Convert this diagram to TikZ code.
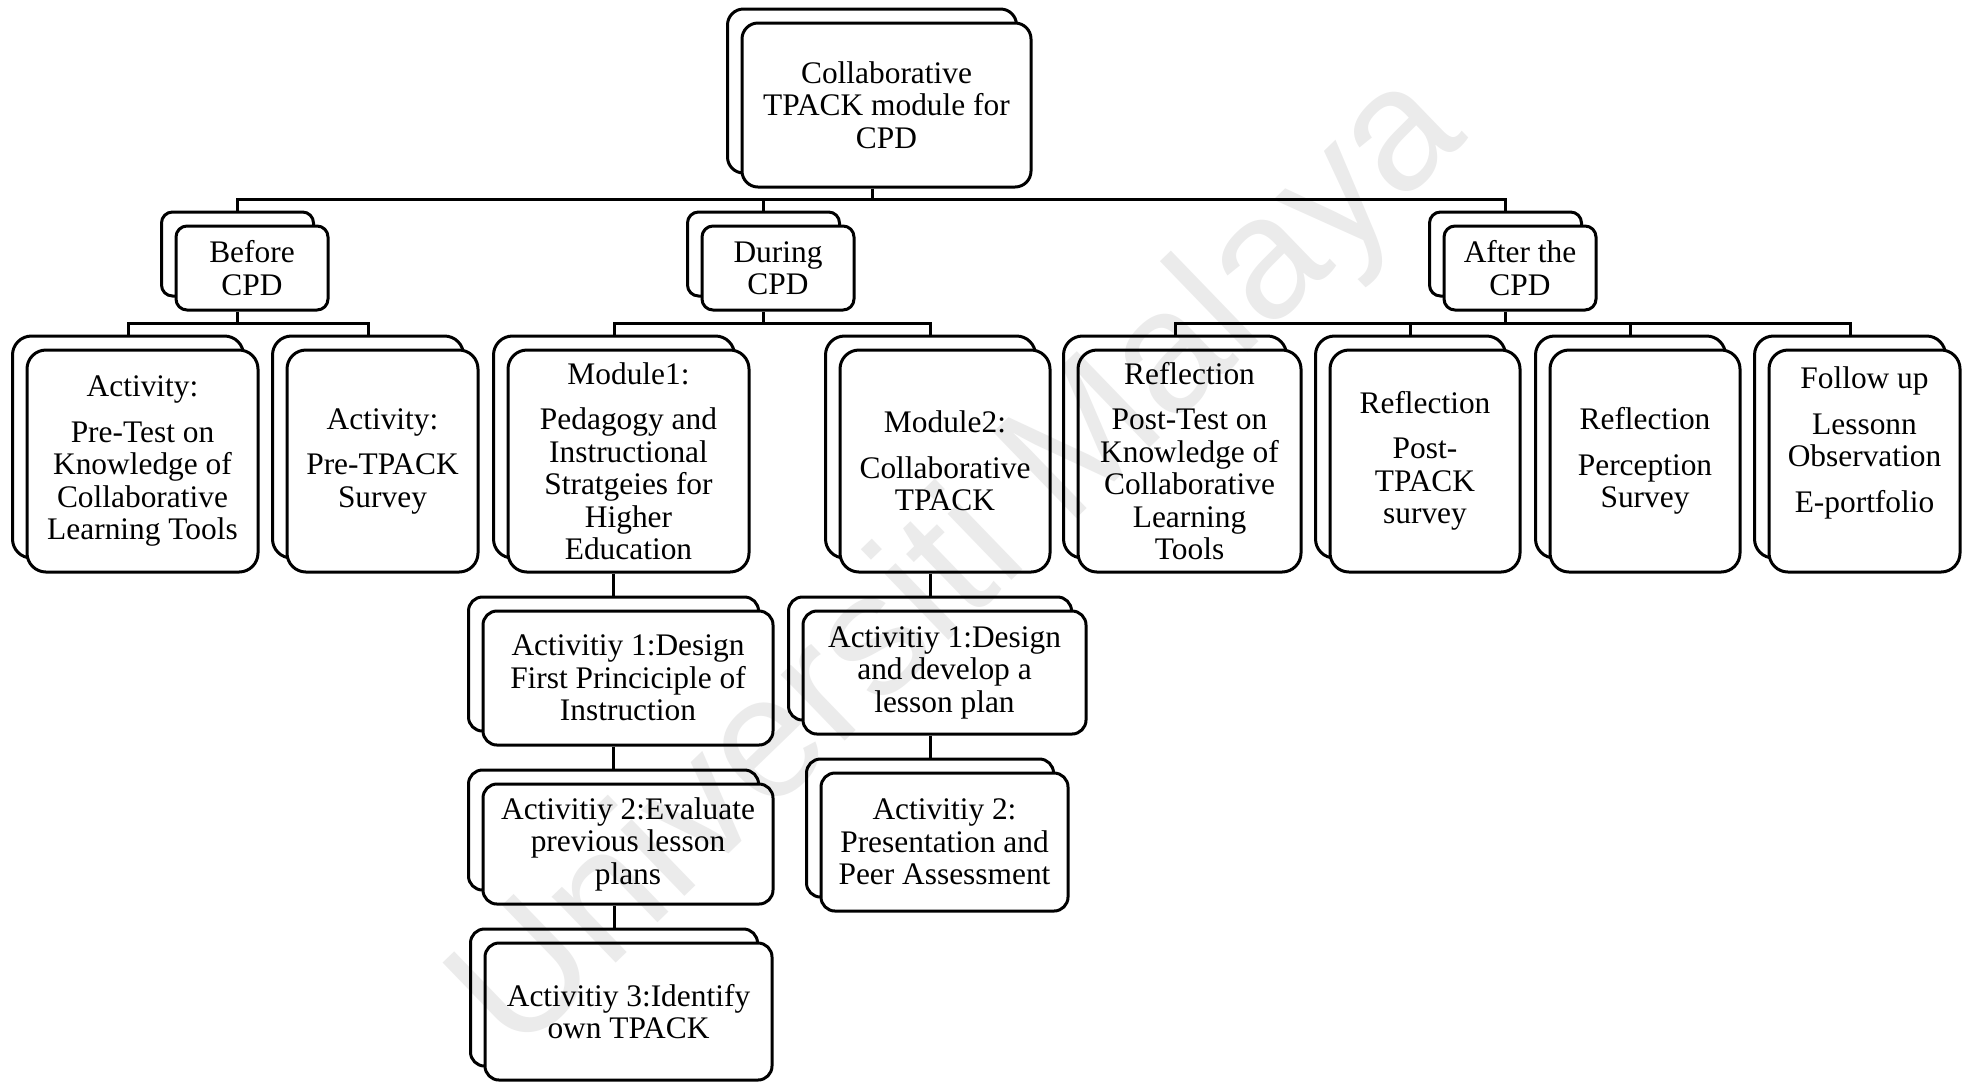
\documentclass[tikz,border=0pt]{standalone}
\usepackage{fontspec}
\setmainfont{Liberation Serif}
\newfontfamily\wmfont{Liberation Sans}

\tikzset{
  boxline/.style={draw=black, line width=1.5pt, fill=white},
  txt/.style={font=\fontsize{15.7}{16.25}\selectfont, align=center, inner sep=0pt},
  link/.style={draw=black, line width=1.5pt},
}

% A shape stacked on a second copy of itself, shifted up and left.
% #1 name, #2-#5 front box corners (x1,y1,x2,y2), #6 corner radius, #7 text
\newcommand{\stackedbox}[7]{%
  \pgfmathsetmacro{\bw}{(#4-#2)*0.5}%
  \pgfmathsetmacro{\bh}{(#5-#3)*0.5}%
  \pgfmathsetmacro{\bx}{(#2+#4)/2}%
  \pgfmathsetmacro{\by}{(#3+#5)/2}%
  \pgfmathsetmacro{\rr}{#6*0.5}%
  \node[boxline, rounded corners=\rr pt, minimum width=\bw pt,
        minimum height=\bh pt, inner sep=0pt] (#1-b) at (\bx-14.5,\by-14) {};
  \node[boxline, rounded corners=\rr pt, minimum width=\bw pt,
        minimum height=\bh pt, txt] (#1) at (\bx,\by) {#7};
}

\begin{document}
\begin{tikzpicture}[x=0.5pt, y=-0.5pt]
\useasboundingbox (0,0) rectangle (1968,1084);

% top of the hierarchy
\stackedbox{root}{742}{23}{1031}{187}{16}{Collaborative\\TPACK module for\\CPD}

% phases
\stackedbox{before}{176}{226}{328}{310}{11}{Before\\CPD}
\stackedbox{during}{702}{226}{854}{310}{11}{During\\CPD}
\stackedbox{after}{1444}{226}{1596}{310}{11}{After the\\CPD}

% before CPD
\stackedbox{pretest}{27}{350}{258}{572}{19}{Activity:\\[6.5pt]Pre-Test on\\Knowledge of\\Collaborative\\Learning Tools}
\stackedbox{pretpack}{287}{350}{478}{572}{19}{Activity:\\[6.5pt]Pre-TPACK\\Survey}

% during CPD
\stackedbox{modone}{508}{350}{749}{572}{19}{Module1:\\[6.5pt]Pedagogy and\\Instructional\\Stratgeies for\\Higher\\Education}
\stackedbox{modtwo}{840}{350}{1050}{572}{19}{Module2:\\[6.5pt]Collaborative\\TPACK}

\stackedbox{moa}{483}{611}{773}{745}{14}{Activitiy 1:Design\\First Princiciple of\\Instruction}
\stackedbox{mob}{483}{784}{773}{904}{14}{Activitiy 2:Evaluate\\previous lesson\\plans}
\stackedbox{moc}{485}{943}{772}{1080}{14}{Activitiy 3:Identify\\own TPACK}

\stackedbox{mta}{803}{611}{1086}{734}{14}{Activitiy 1:Design\\and develop a\\lesson plan}
\stackedbox{mtb}{821}{773}{1068}{911}{14}{Activitiy 2:\\Presentation and\\Peer Assessment}

% after CPD
\stackedbox{reflone}{1078}{350}{1301}{572}{19}{Reflection\\[6.5pt]Post-Test on\\Knowledge of\\Collaborative\\Learning\\Tools}
\stackedbox{refltwo}{1330}{350}{1520}{572}{19}{Reflection\\[6.5pt]Post-\\TPACK\\survey}
\stackedbox{reflthree}{1550}{350}{1740}{572}{19}{Reflection\\[6.5pt]Perception\\Survey}
\stackedbox{follow}{1769}{350}{1960}{572}{19}{Follow up\\[6.5pt]Lessonn\\Observation\\[6.5pt]E-portfolio\\[5pt]\mbox{}}

% connector rails
\coordinate (railtop) at (0,199);
\coordinate (railmid) at (0,323);

% root to phases
\draw[link] (root-b.center |- root.south) -- (root-b.center |- railtop);
\draw[link] (before-b.north) -- (before-b.north |- railtop) -- (after-b.north |- railtop) -- (after-b.north);
\draw[link] (during-b.north) -- (during-b.north |- railtop);

% before CPD
\draw[link] (before-b.center |- before.south) -- (before-b.center |- railmid);
\draw[link] (pretest-b.north) -- (pretest-b.north |- railmid) -- (pretpack-b.north |- railmid) -- (pretpack-b.north);

% during CPD
\draw[link] (during-b.center |- during.south) -- (during-b.center |- railmid);
\draw[link] (modone-b.north) -- (modone-b.north |- railmid) -- (modtwo-b.north |- railmid) -- (modtwo-b.north);
\draw[link] (moa-b.north |- modone.south) -- (moa-b.north);
\draw[link] (mob-b.north |- moa.south) -- (mob-b.north);
\draw[link] (moc-b.north |- mob.south) -- (moc-b.north);
\draw[link] (mta-b.north |- modtwo.south) -- (mta-b.north);
\draw[link] (mtb-b.north |- mta.south) -- (mtb-b.north);

% after CPD
\draw[link] (after-b.center |- after.south) -- (after-b.center |- railmid);
\draw[link] (reflone-b.north) -- (reflone-b.north |- railmid) -- (follow-b.north |- railmid) -- (follow-b.north);
\draw[link] (refltwo-b.north) -- (refltwo-b.north |- railmid);
\draw[link] (reflthree-b.north) -- (reflthree-b.north |- railmid);

% faint diagonal watermark
\begin{scope}[blend mode=multiply]
\node[rotate=44, text=black!8, font=\wmfont\fontsize{87}{87}\selectfont, inner sep=0pt]
  (wm) at (962,566) {Universiti Malaya};
\end{scope}
\end{tikzpicture}
\end{document}
